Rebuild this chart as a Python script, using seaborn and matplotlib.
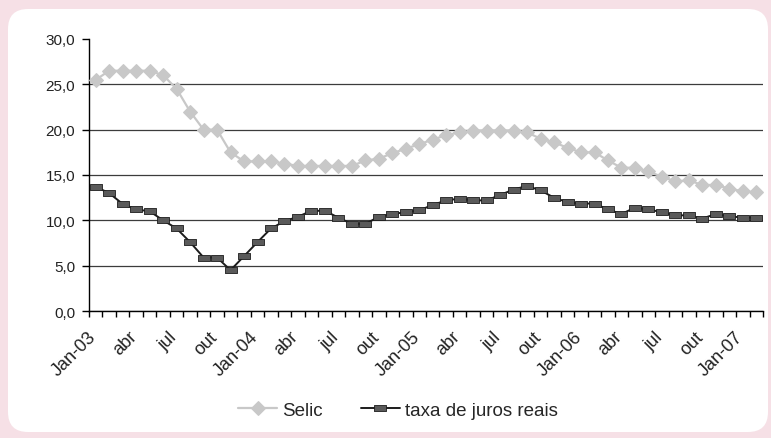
import matplotlib
matplotlib.use("Agg")
import matplotlib.pyplot as plt
import matplotlib.transforms as mtransforms
from matplotlib.patches import FancyBboxPatch
from matplotlib.ticker import FuncFormatter
import numpy as np
import pandas as pd
import seaborn as sns

# monthly values, Jan-03 .. Feb-07
selic = [25.5, 26.5, 26.5, 26.5, 26.5, 26.0, 24.5, 22.0, 20.0, 20.0,
         17.5, 16.5, 16.5, 16.5, 16.25, 16.0, 16.0, 16.0, 16.0, 16.0,
         16.6, 16.8, 17.4, 17.9, 18.4, 18.9, 19.4, 19.7, 19.9, 19.9,
         19.9, 19.9, 19.7, 19.0, 18.6, 18.0, 17.5, 17.5, 16.6, 15.8,
         15.8, 15.4, 14.8, 14.3, 14.4, 13.9, 13.9, 13.5, 13.2, 13.1]
juros_reais = [13.7, 13.0, 11.8, 11.2, 11.0, 10.0, 9.1, 7.6, 5.9, 5.9,
               4.5, 6.05, 7.6, 9.1, 9.9, 10.4, 11.05, 11.05, 10.3, 9.6,
               9.6, 10.4, 10.7, 10.9, 11.1, 11.7, 12.2, 12.4, 12.2, 12.2,
               12.8, 13.4, 13.8, 13.3, 12.5, 12.0, 11.85, 11.85, 11.2, 10.7,
               11.4, 11.2, 10.9, 10.55, 10.55, 10.2, 10.7, 10.45, 10.3, 10.3]
tick_labels = ["Jan-03", "abr", "jul", "out", "Jan-04", "abr", "jul", "out",
               "Jan-05", "abr", "jul", "out", "Jan-06", "abr", "jul", "out",
               "Jan-07"]
y_ticks = [0, 5, 10, 15, 20, 25, 30]

df = pd.DataFrame({"mes": np.arange(len(selic)), "Selic": selic,
                   "taxa de juros reais": juros_reais})

sns.set_style("white")
plt.rcParams["font.family"] = ["Liberation Sans", "DejaVu Sans"]

fig = plt.figure(figsize=(7.71, 4.39), dpi=100)
fig.patch.set_facecolor("#f6e0e6")
# white rounded panel like the scanned page
panel = FancyBboxPatch((0.08, 0.06), 7.60, 4.23,
                       boxstyle="round,pad=0,rounding_size=0.2",
                       transform=fig.dpi_scale_trans,
                       facecolor="white", edgecolor="none", zorder=0)
fig.add_artist(panel)

ax = fig.add_axes([89 / 771, 127 / 439, 674 / 771, 272 / 439])
ax.set_facecolor("none")

rect = [(-1, -0.45), (1, -0.45), (1, 0.45), (-1, 0.45), (-1, -0.45)]
sns.lineplot(data=df, x="mes", y="Selic", color="#c8c8c8", marker="D",
             markersize=7, markeredgecolor="#c8c8c8", linewidth=1.6,
             label="Selic", ax=ax, zorder=3)
sns.lineplot(data=df, x="mes", y="taxa de juros reais", color="#1c1c1c",
             marker=rect, markersize=9, markerfacecolor="#5a5a5a",
             markeredgecolor="#1c1c1c", markeredgewidth=0.6, linewidth=1.4,
             label="taxa de juros reais", ax=ax, zorder=4)

ax.set_xlim(-0.5, len(selic) - 0.5)
ax.set_ylim(0, 30)
ax.set_xlabel("")
ax.set_ylabel("")

ax.set_yticks(y_ticks)
ax.yaxis.set_major_formatter(FuncFormatter(lambda v, p: f"{v:.1f}".replace(".", ",")))
ax.tick_params(axis="y", length=5, width=1, color="black", pad=5,
               labelsize=11, labelcolor="#222222", left=True)

ax.set_xticks(np.arange(0, len(selic), 3))
ax.set_xticklabels(tick_labels)
ax.set_xticks(np.arange(-0.5, len(selic), 1), minor=True)
ax.tick_params(axis="x", which="major", length=0, pad=12, labelsize=13,
               labelcolor="#222222")
ax.tick_params(axis="x", which="minor", length=4, width=1, color="black",
               bottom=True, direction="out")
shift = mtransforms.ScaledTranslation(-0.08, 0, fig.dpi_scale_trans)
for lbl in ax.get_xticklabels():
    lbl.set_rotation(45)
    lbl.set_ha("right")
    lbl.set_va("top")
    lbl.set_rotation_mode("anchor")
    lbl.set_transform(lbl.get_transform() + shift)

ax.set_axisbelow(True)
ax.yaxis.grid(True, color="#3c3c3c", linewidth=0.9)
ax.xaxis.grid(False)
ax.yaxis.get_gridlines()[-1].set_visible(False)

for side in ["top", "right"]:
    ax.spines[side].set_visible(False)
for side in ["left", "bottom"]:
    ax.spines[side].set_color("black")
    ax.spines[side].set_linewidth(1)

ax.legend(loc="center", bbox_to_anchor=(398 / 771, 28 / 439),
          bbox_transform=fig.transFigure, ncol=2, frameon=False,
          handlelength=2.1, columnspacing=2.0, handletextpad=0.27,
          fontsize=13.5)

plt.savefig("out.png", dpi=100, facecolor=fig.get_facecolor())
